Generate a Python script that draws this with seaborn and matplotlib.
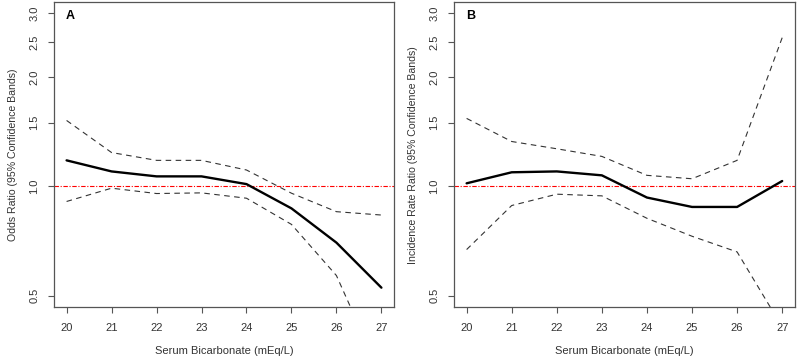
import numpy as np
import pandas as pd
import matplotlib
matplotlib.use("Agg")
import matplotlib.pyplot as plt
from matplotlib.ticker import FixedLocator, NullLocator
import seaborn as sns

# serum bicarbonate (mEq/L)
bicarb = [20, 21, 22, 23, 24, 25, 26, 27]

# panel A: odds ratio with 95% confidence bands
or_est = [1.18, 1.10, 1.066, 1.066, 1.015, 0.87, 0.70, 0.526]
or_upper = [1.52, 1.24, 1.18, 1.18, 1.11, 0.958, 0.852, 0.834]
or_lower = [0.909, 0.989, 0.956, 0.96, 0.928, 0.786, 0.568, 0.30]

# panel B: incidence rate ratio with 95% confidence bands
irr_est = [1.02, 1.094, 1.10, 1.073, 0.932, 0.878, 0.878, 1.035]
irr_upper = [1.54, 1.33, 1.27, 1.21, 1.073, 1.05, 1.18, 2.57]
irr_lower = [0.67, 0.886, 0.952, 0.942, 0.817, 0.729, 0.66, 0.41]

y_ticks = [0.5, 1.0, 1.5, 2.0, 2.5, 3.0]
y_tick_labels = ["0.5", "1.0", "1.5", "2.0", "2.5", "3.0"]

sns.set_theme(style="white")
plt.rcParams["font.family"] = ["Liberation Sans", "DejaVu Sans"]

fig = plt.figure(figsize=(8, 3.63), dpi=100)
ax_a = fig.add_axes([0.0675, 0.154, 0.425, 0.840])
ax_b = fig.add_axes([0.5675, 0.154, 0.426, 0.840])

panels = [
    (ax_a, or_est, or_upper, or_lower, "A", "Odds Ratio (95% Confidence Bands)"),
    (ax_b, irr_est, irr_upper, irr_lower, "B", "Incidence Rate Ratio (95% Confidence Bands)"),
]

edge = "#555555"
for ax, est, upper, lower, letter, ylabel in panels:
    df = pd.DataFrame({"x": bicarb, "est": est, "upper": upper, "lower": lower})
    ax.axhline(1.0, color="#ff0000", lw=0.8, linestyle=(0, (4, 1.5, 1, 1.5)), zorder=1)
    sns.lineplot(data=df, x="x", y="upper", ax=ax, color="#333333", lw=0.8,
                 linestyle=(0, (5, 4)))
    sns.lineplot(data=df, x="x", y="lower", ax=ax, color="#333333", lw=0.8,
                 linestyle=(0, (5, 4)))
    sns.lineplot(data=df, x="x", y="est", ax=ax, color="black", lw=1.7)

    ax.set_yscale("log")
    ax.set_xlim(19.72, 27.28)
    ax.set_ylim(0.465, 3.22)
    ax.yaxis.set_major_locator(FixedLocator(y_ticks))
    ax.yaxis.set_minor_locator(NullLocator())
    ax.set_yticklabels(y_tick_labels, rotation=90, va="center")
    ax.set_xticks(bicarb)
    ax.set_xticklabels([str(v) for v in bicarb])

    ax.tick_params(axis="both", which="major", bottom=True, left=True,
                   direction="out", length=4.5, width=0.8,
                   color=edge, labelsize=8, labelcolor="#333333")
    ax.tick_params(axis="x", pad=7)
    ax.tick_params(axis="y", pad=6)
    for sp in ax.spines.values():
        sp.set_color(edge)
        sp.set_linewidth(0.9)

    ax.set_xlabel("Serum Bicarbonate (mEq/L)", fontsize=8, color="#333333", labelpad=9)
    ax.set_ylabel(ylabel, fontsize=7.6, color="#333333", labelpad=8)
    ax.text(0.035, 0.955, letter, transform=ax.transAxes, fontsize=9,
            fontweight="bold", color="black", va="center", ha="left")

fig.savefig("out.png", dpi=100)
